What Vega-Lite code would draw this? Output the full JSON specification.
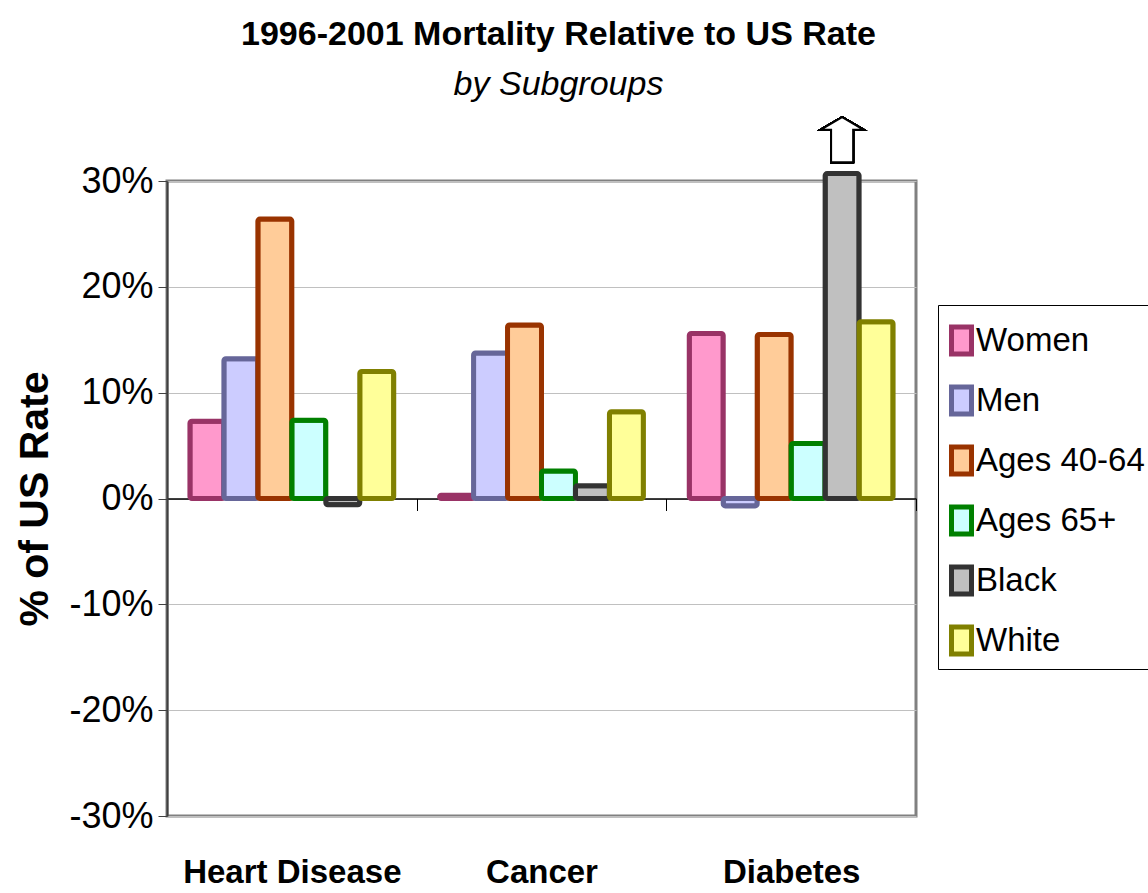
{
  "$schema": "https://vega.github.io/schema/vega-lite/v6.json",
  "autosize": {"type": "none"},
  "width": 749,
  "height": 635,
  "padding": {"left": 167, "top": 181, "right": 232, "bottom": 77},
  "background": "white",
  "config": {
    "font": "Liberation Sans",
    "view": {"stroke": "#808080", "strokeWidth": 3}
  },
  "title": {
    "text": "1996-2001 Mortality Relative to US Rate",
    "subtitle": "by Subgroups",
    "fontSize": 34,
    "fontWeight": "bold",
    "subtitleFontSize": 34,
    "subtitleFontStyle": "italic",
    "subtitleFontWeight": "normal",
    "subtitlePadding": 16,
    "color": "black",
    "subtitleColor": "black",
    "anchor": "middle",
    "dx": 17,
    "offset": 11
  },
  "data": {
    "values": [
      {"cause": "Heart Disease", "group": "Women", "value": 0.073},
      {"cause": "Heart Disease", "group": "Men", "value": 0.132},
      {"cause": "Heart Disease", "group": "Ages 40-64", "value": 0.264},
      {"cause": "Heart Disease", "group": "Ages 65+", "value": 0.074},
      {"cause": "Heart Disease", "group": "Black", "value": -0.006},
      {"cause": "Heart Disease", "group": "White", "value": 0.12},
      {"cause": "Cancer", "group": "Women", "value": 0.003},
      {"cause": "Cancer", "group": "Men", "value": 0.1375},
      {"cause": "Cancer", "group": "Ages 40-64", "value": 0.164},
      {"cause": "Cancer", "group": "Ages 65+", "value": 0.026},
      {"cause": "Cancer", "group": "Black", "value": 0.012},
      {"cause": "Cancer", "group": "White", "value": 0.082},
      {"cause": "Diabetes", "group": "Women", "value": 0.156},
      {"cause": "Diabetes", "group": "Men", "value": -0.007},
      {"cause": "Diabetes", "group": "Ages 40-64", "value": 0.155},
      {"cause": "Diabetes", "group": "Ages 65+", "value": 0.052},
      {"cause": "Diabetes", "group": "Black", "value": 0.307},
      {"cause": "Diabetes", "group": "White", "value": 0.167}
    ]
  },
  "encoding": {
    "x": {
      "field": "cause",
      "type": "nominal",
      "sort": ["Heart Disease", "Cancer", "Diabetes"],
      "scale": {"paddingInner": 0, "paddingOuter": 0},
      "axis": {
        "title": null,
        "labelAngle": 0,
        "offset": -317.5,
        "domainColor": "black",
        "domainWidth": 1.5,
        "tickBand": "extent",
        "tickColor": "black",
        "tickSize": 12,
        "tickWidth": 1,
        "labelFont": "Liberation Sans",
        "labelFontSize": 33,
        "labelFontWeight": "bold",
        "labelColor": "black",
        "labelPadding": 346,
        "labelLimit": 400
      }
    },
    "xOffset": {
      "field": "group",
      "type": "nominal",
      "sort": ["Women", "Men", "Ages 40-64", "Ages 65+", "Black", "White"],
      "scale": {"paddingInner": 0, "paddingOuter": 0.675}
    },
    "y": {
      "field": "value",
      "type": "quantitative",
      "scale": {"domain": [-0.3, 0.3], "nice": false, "zero": false},
      "axis": {
        "title": "% of US Rate",
        "titleFontSize": 41,
        "titleFontWeight": "bold",
        "titleColor": "black",
        "titlePadding": 12,
        "format": ".0%",
        "labelExpr": "replace(datum.label, '−', '-')",
        "values": [-0.3, -0.2, -0.1, 0, 0.1, 0.2, 0.3],
        "labelFontSize": 36,
        "labelColor": "black",
        "labelPadding": 5,
        "tickSize": 9,
        "tickColor": "#404040",
        "domainColor": "#404040",
        "domainWidth": 2,
        "grid": true,
        "gridColor": "#C0C0C0",
        "gridWidth": 1
      }
    }
  },
  "layer": [
    {
      "mark": {"type": "bar", "strokeWidth": 5, "cornerRadius": 2, "strokeJoin": "round"},
      "encoding": {
        "fill": {
          "field": "group",
          "type": "nominal",
          "sort": ["Women", "Men", "Ages 40-64", "Ages 65+", "Black", "White"],
          "scale": {
            "domain": ["Women", "Men", "Ages 40-64", "Ages 65+", "Black", "White"],
            "range": ["#FF99CC", "#CCCCFF", "#FFCC99", "#CCFFFF", "#C0C0C0", "#FFFF99"]
          },
          "legend": {
            "title": " ",
            "titleFontSize": 12,
            "titlePadding": 0,
            "orient": "none",
            "legendX": 771,
            "legendY": 124,
            "padding": 5,
            "strokeColor": "black",
            "fillColor": "white",
            "labelFontSize": 33,
            "labelColor": "black",
            "labelOffset": -4,
            "rowPadding": 13,
            "symbolType": "M-0.625,-0.84H0.625V0.84H-0.625Z",
            "symbolSize": 1024,
            "symbolStrokeWidth": 5,
            "labelLimit": 300
          }
        },
        "stroke": {
          "field": "group",
          "type": "nominal",
          "sort": ["Women", "Men", "Ages 40-64", "Ages 65+", "Black", "White"],
          "scale": {
            "domain": ["Women", "Men", "Ages 40-64", "Ages 65+", "Black", "White"],
            "range": ["#993366", "#666699", "#993300", "#008000", "#333333", "#808000"]
          },
          "legend": null
        }
      }
    },
    {
      "mark": {
        "type": "point",
        "shape": "M0,-1L0.96,-0.44L0.49,-0.44L0.49,1L-0.49,1L-0.49,-0.44L-0.96,-0.44Z",
        "size": 2025,
        "filled": true,
        "fill": "white",
        "stroke": "black",
        "strokeWidth": 2,
        "opacity": 1
      },
      "encoding": {
        "x": {"datum": "Diabetes"},
        "xOffset": {"datum": "Black"},
        "y": {"datum": 0.339}
      }
    }
  ]
}
